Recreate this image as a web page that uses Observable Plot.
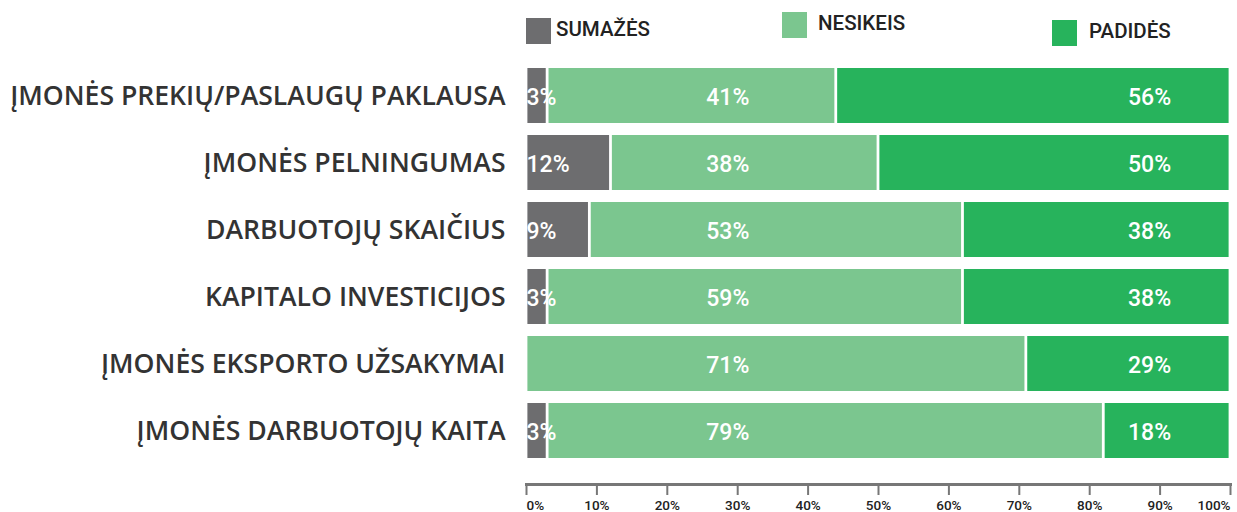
<!DOCTYPE html>
<html><head><meta charset="utf-8">
<script src="https://cdn.jsdelivr.net/npm/d3@7"></script>
<script src="https://cdn.jsdelivr.net/npm/@observablehq/plot@0.6"></script>
<style>
body{margin:0;background:#fff;}
#wrap{position:relative;width:1237px;height:512px;overflow:hidden;}
.sw{position:absolute;width:25px;height:26px;}
.lt{position:absolute;font-family:Roboto;font-weight:500;font-size:20.5px;line-height:22px;color:#222;white-space:nowrap;}
</style></head>
<body><div id="wrap"></div>
<script>
const categories = ["ĮMONĖS PREKIŲ/PASLAUGŲ PAKLAUSA","ĮMONĖS PELNINGUMAS","DARBUOTOJŲ SKAIČIUS","KAPITALO INVESTICIJOS","ĮMONĖS EKSPORTO UŽSAKYMAI","ĮMONĖS DARBUOTOJŲ KAITA"];
const types = ["SUMAŽĖS","NESIKEIS","PADIDĖS"];
const colors = ["#6d6d6f","#7bc68f","#27b35c"];
const decrease = [3,12,9,3,0,3];
const neutral = [41,38,53,59,71,79];
const increase = [56,50,38,38,29,18];
const ticks = [0,10,20,30,40,50,60,70,80,90,100];

const series = [decrease, neutral, increase];
const rows = [];
categories.forEach((c,i)=>types.forEach((t,j)=>{ if(series[j][i]>0) rows.push({cat:c,type:t,value:series[j][i]}); }));
const labelX = {"SUMAŽĖS":0,"NESIKEIS":28.6,"PADIDĖS":88.5};
const labels = rows.map(d=>({...d, lx: labelX[d.type]}));

const font = "Roboto";
const tickText = (data, anchor) => Plot.text(data,{x:d=>d, text:d=>d+"%", frameAnchor:"bottom", dy:25, textAnchor:anchor, fontSize:13.5, fontWeight:500, fontFamily:font, fill:"#222"});
const chart = Plot.plot({
  width:1237, height:512,
  marginLeft:526, marginRight:7, marginTop:53, marginBottom:28,
  x:{domain:[0,100]},
  y:{domain:categories, range:[53.6,471.8], padding:0.186},
  color:{domain:types, range:colors},
  style:{background:"#fff"},
  marks:[
    Plot.barX(rows,{x:"value", y:"cat", fill:"type", order:types, insetLeft:1.4, insetRight:1.4}),
    Plot.text(labels.filter(d=>d.type==="SUMAŽĖS"),{x:"lx", y:"cat", text:d=>d.value+"%", textAnchor:"start", dy:1.5, fill:"#fff", fontSize:23, fontWeight:500, fontFamily:font}),
    Plot.text(labels.filter(d=>d.type!=="SUMAŽĖS"),{x:"lx", y:"cat", text:d=>d.value+"%", dy:1.5, fill:"#fff", fontSize:23, fontWeight:500, fontFamily:font}),
    Plot.axisY({tickSize:0, tickPadding:21, fontSize:26.6, fontWeight:600, fontFamily:"Open Sans", fill:"#333", label:null}),
    Plot.frame({anchor:"bottom", stroke:"#777", strokeWidth:3}),
    Plot.axisX({ticks:ticks, tickFormat:()=>"", tickSize:11, stroke:"#777", strokeWidth:2, label:null}),
    tickText([ticks[0]], "start"),
    tickText(ticks.slice(1,-1), "middle"),
    tickText([ticks[ticks.length-1]], "end")
  ]
});
const wrap = document.getElementById("wrap");
wrap.appendChild(chart);
const lpos = [[526,18,556,17.5],[782,12,818,11.5],[1052,20,1089,19.5]];
types.forEach((t,j)=>{
  const s=document.createElement("div"); s.className="sw";
  s.style.left=lpos[j][0]+"px"; s.style.top=lpos[j][1]+"px"; s.style.background=colors[j];
  wrap.appendChild(s);
  const l=document.createElement("div"); l.className="lt"; l.textContent=t;
  l.style.left=lpos[j][2]+"px"; l.style.top=lpos[j][3]+"px";
  wrap.appendChild(l);
});
</script></body></html>
